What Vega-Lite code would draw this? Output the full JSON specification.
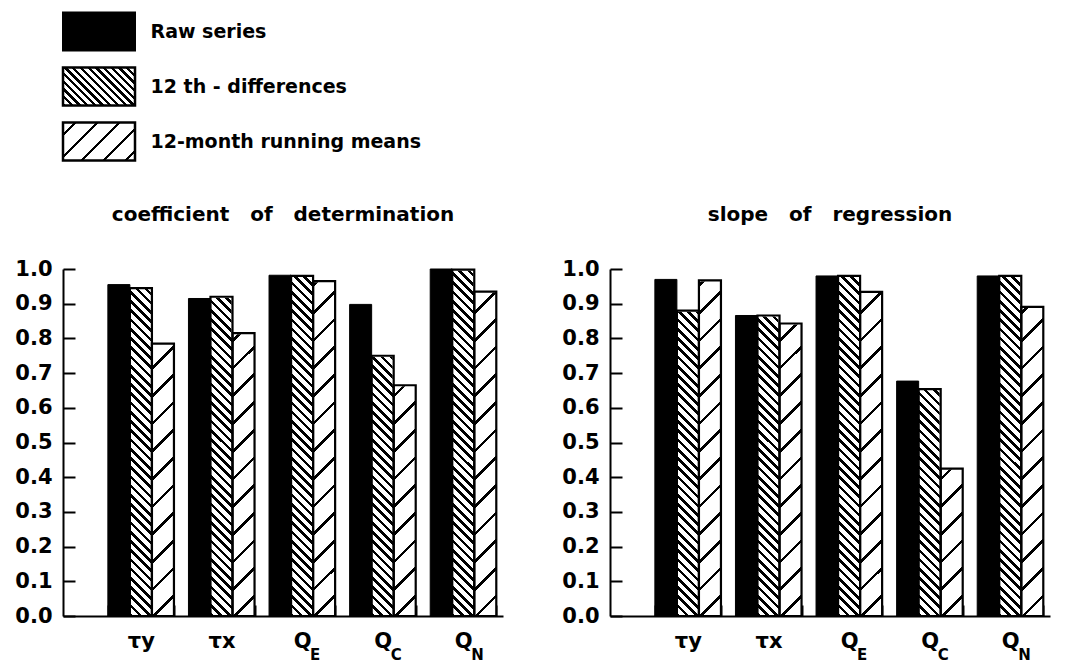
{
  "$schema": "https://vega.github.io/schema/vega-lite/v6.json",
  "background": "white",
  "padding": {"left": 14, "top": 4, "right": 5, "bottom": 2},
  "config": {
    "view": {"stroke": null},
    "font": "DejaVu Sans",
    "header": {"labelFont": "DejaVu Sans"},
    "axisY": {"tickCount": 10, "grid": false, "tickSize": -12, "tickWidth": 2, "tickColor": "#000", "domain": true, "domainWidth": 2, "domainColor": "#000",
              "labelFontSize": 21, "labelFontWeight": "bold", "labelColor": "#000", "labelPadding": 23, "labelFont": "DejaVu Sans", "labelOverlap": false},
    "axisX": {"grid": false}
  },
  "data": {"values": [
    {"panel": "coefficient of determination", "cat": "τy", "series": "Raw series", "value": 0.955},
    {"panel": "coefficient of determination", "cat": "τy", "series": "12 th - differences", "value": 0.945},
    {"panel": "coefficient of determination", "cat": "τy", "series": "12-month running means", "value": 0.785},
    {"panel": "coefficient of determination", "cat": "τx", "series": "Raw series", "value": 0.915},
    {"panel": "coefficient of determination", "cat": "τx", "series": "12 th - differences", "value": 0.92},
    {"panel": "coefficient of determination", "cat": "τx", "series": "12-month running means", "value": 0.815},
    {"panel": "coefficient of determination", "cat": "QE", "series": "Raw series", "value": 0.982, "sub": "E"},
    {"panel": "coefficient of determination", "cat": "QE", "series": "12 th - differences", "value": 0.98},
    {"panel": "coefficient of determination", "cat": "QE", "series": "12-month running means", "value": 0.965},
    {"panel": "coefficient of determination", "cat": "QC", "series": "Raw series", "value": 0.898, "sub": "C"},
    {"panel": "coefficient of determination", "cat": "QC", "series": "12 th - differences", "value": 0.75},
    {"panel": "coefficient of determination", "cat": "QC", "series": "12-month running means", "value": 0.665},
    {"panel": "coefficient of determination", "cat": "QN", "series": "Raw series", "value": 1.0, "sub": "N"},
    {"panel": "coefficient of determination", "cat": "QN", "series": "12 th - differences", "value": 0.998},
    {"panel": "coefficient of determination", "cat": "QN", "series": "12-month running means", "value": 0.935},
    {"panel": "slope of regression", "cat": "τy", "series": "Raw series", "value": 0.97},
    {"panel": "slope of regression", "cat": "τy", "series": "12 th - differences", "value": 0.88},
    {"panel": "slope of regression", "cat": "τy", "series": "12-month running means", "value": 0.967},
    {"panel": "slope of regression", "cat": "τx", "series": "Raw series", "value": 0.866},
    {"panel": "slope of regression", "cat": "τx", "series": "12 th - differences", "value": 0.866},
    {"panel": "slope of regression", "cat": "τx", "series": "12-month running means", "value": 0.843},
    {"panel": "slope of regression", "cat": "QE", "series": "Raw series", "value": 0.98, "sub": "E"},
    {"panel": "slope of regression", "cat": "QE", "series": "12 th - differences", "value": 0.98},
    {"panel": "slope of regression", "cat": "QE", "series": "12-month running means", "value": 0.934},
    {"panel": "slope of regression", "cat": "QC", "series": "Raw series", "value": 0.677, "sub": "C"},
    {"panel": "slope of regression", "cat": "QC", "series": "12 th - differences", "value": 0.654},
    {"panel": "slope of regression", "cat": "QC", "series": "12-month running means", "value": 0.425},
    {"panel": "slope of regression", "cat": "QN", "series": "Raw series", "value": 0.98, "sub": "N"},
    {"panel": "slope of regression", "cat": "QN", "series": "12 th - differences", "value": 0.98},
    {"panel": "slope of regression", "cat": "QN", "series": "12-month running means", "value": 0.891}
  ]},
  "spacing": 35,
  "vconcat": [
    {
      "width": 72,
      "height": {"step": 55},
      "transform": [{"filter": "datum.panel === 'coefficient of determination' && datum.cat === 'τy'"}],
      "encoding": {
        "y": {"field": "series", "type": "nominal", "sort": ["Raw series", "12 th - differences", "12-month running means"],
              "scale": {"paddingInner": 0.309, "paddingOuter": 0.155},
              "axis": {"orient": "right", "title": null, "domain": false, "ticks": false, "labelPadding": 15, "labelFontSize": 19, "labelFontWeight": "bold",
                       "labelColor": "#000", "labelFont": "DejaVu Sans", "labelAlign": "left", "labelLimit": 0}},
        "x": {"datum": 0, "type": "quantitative", "scale": {"domain": [0, 1], "nice": false, "zero": false}, "axis": null},
        "x2": {"datum": 1}
      },
      "layer": [
        {"transform": [{"filter": "datum.series === 'Raw series'"}], "mark": {"type": "bar", "fill": "#000", "stroke": "#000", "strokeWidth": 2}},
        {"transform": [{"filter": "datum.series === '12 th - differences'"}], "mark": {"type": "bar", "stroke": "#000", "strokeWidth": 2.5,
          "fill": {"gradient": "linear", "x1": 0, "y1": 1, "x2": 1.1949, "y2": 0.3693, "stops": [
            {"offset": 0, "color": "#000"}, {"offset": 0.03, "color": "#000"}, {"offset": 0.03, "color": "#fff"}, {"offset": 0.07, "color": "#fff"},
            {"offset": 0.07, "color": "#000"}, {"offset": 0.1, "color": "#000"}, {"offset": 0.1, "color": "#fff"}, {"offset": 0.14, "color": "#fff"},
            {"offset": 0.14, "color": "#000"}, {"offset": 0.17, "color": "#000"}, {"offset": 0.17, "color": "#fff"}, {"offset": 0.21, "color": "#fff"},
            {"offset": 0.21, "color": "#000"}, {"offset": 0.24, "color": "#000"}, {"offset": 0.24, "color": "#fff"}, {"offset": 0.28, "color": "#fff"},
            {"offset": 0.28, "color": "#000"}, {"offset": 0.31, "color": "#000"}, {"offset": 0.31, "color": "#fff"}, {"offset": 0.35, "color": "#fff"},
            {"offset": 0.35, "color": "#000"}, {"offset": 0.38, "color": "#000"}, {"offset": 0.38, "color": "#fff"}, {"offset": 0.42, "color": "#fff"},
            {"offset": 0.42, "color": "#000"}, {"offset": 0.45, "color": "#000"}, {"offset": 0.45, "color": "#fff"}, {"offset": 0.49, "color": "#fff"},
            {"offset": 0.49, "color": "#000"}, {"offset": 0.52, "color": "#000"}, {"offset": 0.52, "color": "#fff"}, {"offset": 0.56, "color": "#fff"},
            {"offset": 0.56, "color": "#000"}, {"offset": 0.59, "color": "#000"}, {"offset": 0.59, "color": "#fff"}, {"offset": 0.63, "color": "#fff"},
            {"offset": 0.63, "color": "#000"}, {"offset": 0.66, "color": "#000"}, {"offset": 0.66, "color": "#fff"}, {"offset": 0.7, "color": "#fff"},
            {"offset": 0.7, "color": "#000"}, {"offset": 0.73, "color": "#000"}, {"offset": 0.73, "color": "#fff"}, {"offset": 0.77, "color": "#fff"},
            {"offset": 0.77, "color": "#000"}, {"offset": 0.8, "color": "#000"}, {"offset": 0.8, "color": "#fff"}, {"offset": 0.84, "color": "#fff"},
            {"offset": 0.84, "color": "#000"}, {"offset": 0.87, "color": "#000"}, {"offset": 0.87, "color": "#fff"}, {"offset": 0.91, "color": "#fff"},
            {"offset": 0.91, "color": "#000"}, {"offset": 0.94, "color": "#000"}, {"offset": 0.94, "color": "#fff"}, {"offset": 0.98, "color": "#fff"},
            {"offset": 0.98, "color": "#000"}, {"offset": 1, "color": "#000"}
          ]}}},
        {"transform": [{"filter": "datum.series === '12-month running means'"}], "mark": {"type": "bar", "stroke": "#000", "strokeWidth": 2.5,
          "fill": {"gradient": "linear", "x1": 0, "y1": 0, "x2": 1.1949, "y2": 0.6307, "stops": [
            {"offset": 0, "color": "#fff"}, {"offset": 0.1, "color": "#fff"}, {"offset": 0.1, "color": "#000"}, {"offset": 0.13, "color": "#000"}, {"offset": 0.13, "color": "#fff"},
            {"offset": 0.3, "color": "#fff"}, {"offset": 0.3, "color": "#000"}, {"offset": 0.33, "color": "#000"}, {"offset": 0.33, "color": "#fff"},
            {"offset": 0.5, "color": "#fff"}, {"offset": 0.5, "color": "#000"}, {"offset": 0.53, "color": "#000"}, {"offset": 0.53, "color": "#fff"},
            {"offset": 0.7, "color": "#fff"}, {"offset": 0.7, "color": "#000"}, {"offset": 0.73, "color": "#000"}, {"offset": 0.73, "color": "#fff"},
            {"offset": 0.9, "color": "#fff"}, {"offset": 0.9, "color": "#000"}, {"offset": 0.93, "color": "#000"}, {"offset": 0.93, "color": "#fff"},
            {"offset": 1, "color": "#fff"}
          ]}}}
      ]
    },
    {
      "facet": {"column": {"field": "panel", "type": "nominal", "sort": ["coefficient of determination", "slope of regression"],
        "header": {"title": null, "labelFontSize": 20, "labelFontWeight": "bold", "labelColor": "#000", "labelPadding": 33,
                   "labelExpr": "replace(datum.label, / /g, '\u00a0\u00a0\u00a0')"}}},
      "spacing": 58,
      "resolve": {"axis": {"y": "independent", "x": "independent"}},
      "spec": {
        "width": 440,
        "height": 347,
        "encoding": {
          "x": {"field": "cat", "type": "nominal", "sort": ["τy", "τx", "QE", "QC", "QN"],
                "scale": {"paddingInner": 0.18, "paddingOuter": 0.32, "align": 0.87},
                "axis": {"title": null, "grid": false, "tickBand": "extent", "tickSize": -11, "tickWidth": 2, "tickColor": "#000", "domainWidth": 2, "domainColor": "#000",
                         "labelAngle": 0, "labelFontSize": 21, "labelFontWeight": "bold", "labelColor": "#000", "labelPadding": 25, "labelFont": "DejaVu Sans",
                         "labelExpr": "substring(datum.label, 0, 1) === 'Q' ? 'Q' : datum.label"}}
        },
        "layer": [
          {"transform": [{"filter": "datum.series === '12 th - differences'"}],
           "mark": {"type": "bar", "strokeWidth": 0,
             "fill": {"gradient": "linear", "x1": 0, "y1": 1, "x2": 0.0672, "y2": -0.0592, "stops": [
              {"offset": 0, "color": "#000"}, {"offset": 0.01, "color": "#000"}, {"offset": 0.01, "color": "#fff"}, {"offset": 0.025, "color": "#fff"},
              {"offset": 0.025, "color": "#000"}, {"offset": 0.035, "color": "#000"}, {"offset": 0.035, "color": "#fff"}, {"offset": 0.05, "color": "#fff"},
              {"offset": 0.05, "color": "#000"}, {"offset": 0.06, "color": "#000"}, {"offset": 0.06, "color": "#fff"}, {"offset": 0.075, "color": "#fff"},
              {"offset": 0.075, "color": "#000"}, {"offset": 0.085, "color": "#000"}, {"offset": 0.085, "color": "#fff"}, {"offset": 0.1, "color": "#fff"},
              {"offset": 0.1, "color": "#000"}, {"offset": 0.11, "color": "#000"}, {"offset": 0.11, "color": "#fff"}, {"offset": 0.125, "color": "#fff"},
              {"offset": 0.125, "color": "#000"}, {"offset": 0.135, "color": "#000"}, {"offset": 0.135, "color": "#fff"}, {"offset": 0.15, "color": "#fff"},
              {"offset": 0.15, "color": "#000"}, {"offset": 0.16, "color": "#000"}, {"offset": 0.16, "color": "#fff"}, {"offset": 0.175, "color": "#fff"},
              {"offset": 0.175, "color": "#000"}, {"offset": 0.185, "color": "#000"}, {"offset": 0.185, "color": "#fff"}, {"offset": 0.2, "color": "#fff"},
              {"offset": 0.2, "color": "#000"}, {"offset": 0.21, "color": "#000"}, {"offset": 0.21, "color": "#fff"}, {"offset": 0.225, "color": "#fff"},
              {"offset": 0.225, "color": "#000"}, {"offset": 0.235, "color": "#000"}, {"offset": 0.235, "color": "#fff"}, {"offset": 0.25, "color": "#fff"},
              {"offset": 0.25, "color": "#000"}, {"offset": 0.26, "color": "#000"}, {"offset": 0.26, "color": "#fff"}, {"offset": 0.275, "color": "#fff"},
              {"offset": 0.275, "color": "#000"}, {"offset": 0.285, "color": "#000"}, {"offset": 0.285, "color": "#fff"}, {"offset": 0.3, "color": "#fff"},
              {"offset": 0.3, "color": "#000"}, {"offset": 0.31, "color": "#000"}, {"offset": 0.31, "color": "#fff"}, {"offset": 0.325, "color": "#fff"},
              {"offset": 0.325, "color": "#000"}, {"offset": 0.335, "color": "#000"}, {"offset": 0.335, "color": "#fff"}, {"offset": 0.35, "color": "#fff"},
              {"offset": 0.35, "color": "#000"}, {"offset": 0.36, "color": "#000"}, {"offset": 0.36, "color": "#fff"}, {"offset": 0.375, "color": "#fff"},
              {"offset": 0.375, "color": "#000"}, {"offset": 0.385, "color": "#000"}, {"offset": 0.385, "color": "#fff"}, {"offset": 0.4, "color": "#fff"},
              {"offset": 0.4, "color": "#000"}, {"offset": 0.41, "color": "#000"}, {"offset": 0.41, "color": "#fff"}, {"offset": 0.425, "color": "#fff"},
              {"offset": 0.425, "color": "#000"}, {"offset": 0.435, "color": "#000"}, {"offset": 0.435, "color": "#fff"}, {"offset": 0.45, "color": "#fff"},
              {"offset": 0.45, "color": "#000"}, {"offset": 0.46, "color": "#000"}, {"offset": 0.46, "color": "#fff"}, {"offset": 0.475, "color": "#fff"},
              {"offset": 0.475, "color": "#000"}, {"offset": 0.485, "color": "#000"}, {"offset": 0.485, "color": "#fff"}, {"offset": 0.5, "color": "#fff"},
              {"offset": 0.5, "color": "#000"}, {"offset": 0.51, "color": "#000"}, {"offset": 0.51, "color": "#fff"}, {"offset": 0.525, "color": "#fff"},
              {"offset": 0.525, "color": "#000"}, {"offset": 0.535, "color": "#000"}, {"offset": 0.535, "color": "#fff"}, {"offset": 0.55, "color": "#fff"},
              {"offset": 0.55, "color": "#000"}, {"offset": 0.56, "color": "#000"}, {"offset": 0.56, "color": "#fff"}, {"offset": 0.575, "color": "#fff"},
              {"offset": 0.575, "color": "#000"}, {"offset": 0.585, "color": "#000"}, {"offset": 0.585, "color": "#fff"}, {"offset": 0.6, "color": "#fff"},
              {"offset": 0.6, "color": "#000"}, {"offset": 0.61, "color": "#000"}, {"offset": 0.61, "color": "#fff"}, {"offset": 0.625, "color": "#fff"},
              {"offset": 0.625, "color": "#000"}, {"offset": 0.635, "color": "#000"}, {"offset": 0.635, "color": "#fff"}, {"offset": 0.65, "color": "#fff"},
              {"offset": 0.65, "color": "#000"}, {"offset": 0.66, "color": "#000"}, {"offset": 0.66, "color": "#fff"}, {"offset": 0.675, "color": "#fff"},
              {"offset": 0.675, "color": "#000"}, {"offset": 0.685, "color": "#000"}, {"offset": 0.685, "color": "#fff"}, {"offset": 0.7, "color": "#fff"},
              {"offset": 0.7, "color": "#000"}, {"offset": 0.71, "color": "#000"}, {"offset": 0.71, "color": "#fff"}, {"offset": 0.725, "color": "#fff"},
              {"offset": 0.725, "color": "#000"}, {"offset": 0.735, "color": "#000"}, {"offset": 0.735, "color": "#fff"}, {"offset": 0.75, "color": "#fff"},
              {"offset": 0.75, "color": "#000"}, {"offset": 0.76, "color": "#000"}, {"offset": 0.76, "color": "#fff"}, {"offset": 0.775, "color": "#fff"},
              {"offset": 0.775, "color": "#000"}, {"offset": 0.785, "color": "#000"}, {"offset": 0.785, "color": "#fff"}, {"offset": 0.8, "color": "#fff"},
              {"offset": 0.8, "color": "#000"}, {"offset": 0.81, "color": "#000"}, {"offset": 0.81, "color": "#fff"}, {"offset": 0.825, "color": "#fff"},
              {"offset": 0.825, "color": "#000"}, {"offset": 0.835, "color": "#000"}, {"offset": 0.835, "color": "#fff"}, {"offset": 0.85, "color": "#fff"},
              {"offset": 0.85, "color": "#000"}, {"offset": 0.86, "color": "#000"}, {"offset": 0.86, "color": "#fff"}, {"offset": 0.875, "color": "#fff"},
              {"offset": 0.875, "color": "#000"}, {"offset": 0.885, "color": "#000"}, {"offset": 0.885, "color": "#fff"}, {"offset": 0.9, "color": "#fff"},
              {"offset": 0.9, "color": "#000"}, {"offset": 0.91, "color": "#000"}, {"offset": 0.91, "color": "#fff"}, {"offset": 0.925, "color": "#fff"},
              {"offset": 0.925, "color": "#000"}, {"offset": 0.935, "color": "#000"}, {"offset": 0.935, "color": "#fff"}, {"offset": 0.95, "color": "#fff"},
              {"offset": 0.95, "color": "#000"}, {"offset": 0.96, "color": "#000"}, {"offset": 0.96, "color": "#fff"}, {"offset": 0.975, "color": "#fff"},
              {"offset": 0.975, "color": "#000"}, {"offset": 0.985, "color": "#000"}, {"offset": 0.985, "color": "#fff"}, {"offset": 1, "color": "#fff"}
             ]}},
           "encoding": {
             "xOffset": {"field": "series", "type": "nominal", "sort": ["Raw series", "12 th - differences", "12-month running means"], "scale": {"paddingInner": 0, "paddingOuter": 0}},
             "y": {"datum": 1, "type": "quantitative", "title": null, "scale": {"domain": [0, 1], "nice": false, "zero": true}},
             "y2": {"datum": 0}
           }},
          {"transform": [{"filter": "datum.series === '12-month running means'"}],
           "mark": {"type": "bar", "strokeWidth": 0,
             "fill": {"gradient": "linear", "x1": 0, "y1": 0, "x2": 0.0672, "y2": 1.0592, "stops": [
              {"offset": 0, "color": "#fff"}, {"offset": 0.04, "color": "#fff"}, {"offset": 0.04, "color": "#000"}, {"offset": 0.05, "color": "#000"}, {"offset": 0.05, "color": "#fff"},
              {"offset": 0.115, "color": "#fff"}, {"offset": 0.115, "color": "#000"}, {"offset": 0.125, "color": "#000"}, {"offset": 0.125, "color": "#fff"},
              {"offset": 0.19, "color": "#fff"}, {"offset": 0.19, "color": "#000"}, {"offset": 0.2, "color": "#000"}, {"offset": 0.2, "color": "#fff"},
              {"offset": 0.265, "color": "#fff"}, {"offset": 0.265, "color": "#000"}, {"offset": 0.275, "color": "#000"}, {"offset": 0.275, "color": "#fff"},
              {"offset": 0.34, "color": "#fff"}, {"offset": 0.34, "color": "#000"}, {"offset": 0.35, "color": "#000"}, {"offset": 0.35, "color": "#fff"},
              {"offset": 0.415, "color": "#fff"}, {"offset": 0.415, "color": "#000"}, {"offset": 0.425, "color": "#000"}, {"offset": 0.425, "color": "#fff"},
              {"offset": 0.49, "color": "#fff"}, {"offset": 0.49, "color": "#000"}, {"offset": 0.5, "color": "#000"}, {"offset": 0.5, "color": "#fff"},
              {"offset": 0.565, "color": "#fff"}, {"offset": 0.565, "color": "#000"}, {"offset": 0.575, "color": "#000"}, {"offset": 0.575, "color": "#fff"},
              {"offset": 0.64, "color": "#fff"}, {"offset": 0.64, "color": "#000"}, {"offset": 0.65, "color": "#000"}, {"offset": 0.65, "color": "#fff"},
              {"offset": 0.715, "color": "#fff"}, {"offset": 0.715, "color": "#000"}, {"offset": 0.725, "color": "#000"}, {"offset": 0.725, "color": "#fff"},
              {"offset": 0.79, "color": "#fff"}, {"offset": 0.79, "color": "#000"}, {"offset": 0.8, "color": "#000"}, {"offset": 0.8, "color": "#fff"},
              {"offset": 0.865, "color": "#fff"}, {"offset": 0.865, "color": "#000"}, {"offset": 0.875, "color": "#000"}, {"offset": 0.875, "color": "#fff"},
              {"offset": 0.94, "color": "#fff"}, {"offset": 0.94, "color": "#000"}, {"offset": 0.95, "color": "#000"}, {"offset": 0.95, "color": "#fff"},
              {"offset": 1, "color": "#fff"}
             ]}},
           "encoding": {
             "xOffset": {"field": "series", "type": "nominal", "sort": ["Raw series", "12 th - differences", "12-month running means"], "scale": {"paddingInner": 0, "paddingOuter": 0}},
             "y": {"datum": 1, "type": "quantitative", "title": null},
             "y2": {"datum": 0}
           }},
          {"transform": [{"filter": "datum.series !== 'Raw series'"}],
           "mark": {"type": "bar", "fill": "#fff", "stroke": "#fff", "strokeWidth": 2},
           "encoding": {
             "xOffset": {"field": "series", "type": "nominal", "sort": ["Raw series", "12 th - differences", "12-month running means"], "scale": {"paddingInner": 0, "paddingOuter": 0}},
             "y": {"field": "value", "type": "quantitative", "title": null},
             "y2": {"datum": 1}
           }},
          {"transform": [{"filter": "datum.series !== 'Raw series'"}],
           "mark": {"type": "bar", "fill": "#fff", "fillOpacity": 0, "stroke": "#000", "strokeWidth": 2.2},
           "encoding": {
             "xOffset": {"field": "series", "type": "nominal", "sort": ["Raw series", "12 th - differences", "12-month running means"], "scale": {"paddingInner": 0, "paddingOuter": 0}},
             "y": {"field": "value", "type": "quantitative", "title": null}
           }},
          {"transform": [{"filter": "datum.series === 'Raw series'"}],
           "mark": {"type": "bar", "fill": "#000", "stroke": "#000", "strokeWidth": 1},
           "encoding": {
             "xOffset": {"field": "series", "type": "nominal", "sort": ["Raw series", "12 th - differences", "12-month running means"], "scale": {"paddingInner": 0, "paddingOuter": 0}},
             "y": {"field": "value", "type": "quantitative", "title": null}
           }},
          {"transform": [{"filter": "datum.series === 'Raw series' && datum.sub"}],
           "mark": {"type": "text", "align": "left", "baseline": "alphabetic", "dx": 8, "dy": 44, "fontSize": 15, "fontWeight": "bold", "color": "#000", "font": "DejaVu Sans"},
           "encoding": {
             "text": {"field": "sub"},
             "y": {"datum": 0, "type": "quantitative", "title": null}
           }}
        ]
      }
    }
  ]
}
